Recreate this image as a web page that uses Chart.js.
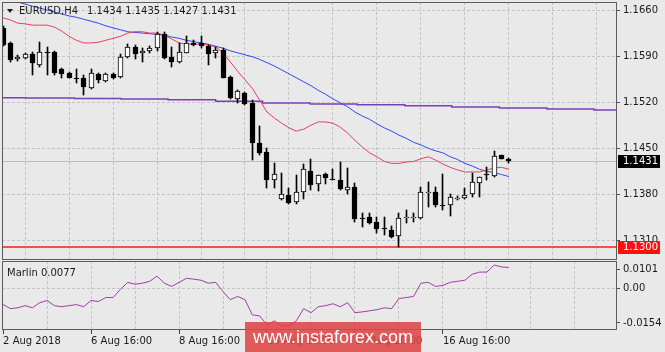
<!DOCTYPE html>
<html>
<head>
<meta charset="utf-8">
<title>EURUSD H4</title>
<script src="https://cdn.jsdelivr.net/npm/chart.js@4.4.1/dist/chart.umd.min.js"></script>
<style>
    body { margin: 0; background: #e9e9e9; }
    #wrap { position: relative; width: 665px; height: 352px; overflow: hidden; background: #e9e9e9; }
    #price_chart { position: absolute; left: 0; top: 0; }
    #osc_chart { position: absolute; left: 0; top: 260px; }
    #watermark {
        position: absolute; left: 245px; top: 322px; width: 176px; height: 30px;
        background: rgba(222, 70, 70, 0.88); color: #fff;
        font: 18px "Liberation Sans", Arial, sans-serif; line-height: 30px; text-align: center;
    }
</style>
</head>
<body>
<div id="wrap">
    <canvas id="price_chart" width="665" height="261"></canvas>
    <canvas id="osc_chart" width="665" height="92"></canvas>
    <div id="watermark">www.instaforex.com</div>
</div>
<script>
// ---- data (one value per H4 bar) ----
const symbol_name  = "EURUSD,H4";
const open_prices  = [1.1632,1.1610,1.1586,1.1587,1.1593,1.1576,1.1596,1.1596,1.1570,1.1564,
                      1.1557,1.1557,1.1541,1.1563,1.1552,1.1563,1.1558,1.1589,1.1604,1.1595,
                      1.1598,1.1602,1.1624,1.1589,1.1581,1.1595,1.1610,1.1610,1.1605,1.1595,
                      1.1599,1.1558,1.1525,1.1534,1.1519,1.1458,1.1444,1.1402,1.1373,1.1379,
                      1.1368,1.1383,1.1415,1.1396,1.1411,1.1404,1.1402,1.1386,1.1391,1.1344,
                      1.1345,1.1338,1.1329,1.1326,1.1316,1.1345,1.1345,1.1344,1.1383,1.1383,
                      1.1364,1.1364,1.1374,1.1374,1.1380,1.1397,1.1411,1.1408,1.1440,1.1434];
const high_prices  = [1.1636,1.1611,1.1592,1.1595,1.1596,1.1611,1.1604,1.1597,1.1572,1.1566,
                      1.1570,1.1561,1.1570,1.1564,1.1564,1.1564,1.1593,1.1608,1.1607,1.1602,
                      1.1605,1.1627,1.1627,1.1604,1.1610,1.1620,1.1614,1.1620,1.1607,1.1604,
                      1.1602,1.1560,1.1538,1.1535,1.1523,1.1484,1.1450,1.1427,1.1412,1.1389,
                      1.1409,1.1426,1.1434,1.1410,1.1412,1.1418,1.1429,1.1420,1.1397,1.1351,
                      1.1351,1.1345,1.1345,1.1332,1.1351,1.1356,1.1351,1.1391,1.1399,1.1391,
                      1.1411,1.1380,1.1377,1.1389,1.1412,1.1407,1.1421,1.1446,1.1440,1.1435];
const low_prices   = [1.1605,1.1581,1.1582,1.1586,1.1561,1.1573,1.1561,1.1561,1.1557,1.1556,
                      1.1549,1.1531,1.1540,1.1549,1.1551,1.1555,1.1557,1.1587,1.1586,1.1581,
                      1.1595,1.1598,1.1586,1.1573,1.1580,1.1594,1.1605,1.1602,1.1576,1.1587,
                      1.1556,1.1525,1.1519,1.1516,1.1432,1.1440,1.1389,1.1389,1.1371,1.1366,
                      1.1366,1.1373,1.1386,1.1385,1.1396,1.1402,1.1386,1.1380,1.1338,1.1330,
                      1.1335,1.1321,1.1318,1.1313,1.1300,1.1336,1.1338,1.1343,1.1361,1.1361,
                      1.1356,1.1347,1.1372,1.1373,1.1376,1.1376,1.1402,1.1407,1.1434,1.1427];
const close_prices = [1.1607,1.1584,1.1589,1.1593,1.1579,1.1596,1.1595,1.1564,1.1563,1.1557,
                      1.1556,1.1543,1.1564,1.1554,1.1563,1.1557,1.1589,1.1604,1.1593,1.1598,
                      1.1602,1.1624,1.1587,1.1581,1.1596,1.1610,1.1607,1.1605,1.1593,1.1599,
                      1.1557,1.1526,1.1537,1.1517,1.1458,1.1443,1.1402,1.1411,1.1380,1.1367,
                      1.1383,1.1418,1.1394,1.1409,1.1405,1.1403,1.1388,1.1391,1.1342,1.1343,
                      1.1336,1.1327,1.1328,1.1315,1.1344,1.1346,1.1345,1.1383,1.1383,1.1364,
                      1.1363,1.1376,1.1375,1.1379,1.1399,1.1406,1.1409,1.1438,1.1434,1.1431];

// moving averages (red = fast, blue = slow)
const ma_fast = [1.1648,1.1645,1.1640,1.1639,1.1637,1.1637,1.1637,1.1634,1.1628,1.1620,
                 1.1614,1.1610,1.1610,1.1611,1.1614,1.1617,1.1620,1.1625,1.1627,1.1627,
                 1.1625,1.1625,1.1622,1.1616,1.1610,1.1608,1.1608,1.1608,1.1607,1.1604,
                 1.1595,1.1581,1.1567,1.1554,1.1541,1.1523,1.1505,1.1496,1.1488,1.1481,
                 1.1476,1.1479,1.1485,1.1490,1.1490,1.1488,1.1482,1.1473,1.1462,1.1452,
                 1.1443,1.1437,1.1430,1.1427,1.1427,1.1429,1.1430,1.1434,1.1437,1.1432,
                 1.1426,1.1421,1.1417,1.1414,1.1414,1.1414,1.1417,1.1420,1.1421,1.1418];
const ma_slow = [1.1678,1.1675,1.1672,1.1669,1.1666,1.1663,1.1660,1.1657,1.1654,1.1651,
                 1.1649,1.1646,1.1643,1.1640,1.1636,1.1633,1.1630,1.1627,1.1626,1.1625,
                 1.1624,1.1623,1.1622,1.1619,1.1617,1.1614,1.1612,1.1610,1.1608,1.1605,
                 1.1602,1.1598,1.1595,1.1592,1.1589,1.1585,1.1580,1.1575,1.1569,1.1563,
                 1.1557,1.1551,1.1545,1.1538,1.1532,1.1525,1.1519,1.1513,1.1505,1.1499,
                 1.1494,1.1487,1.1481,1.1476,1.1470,1.1465,1.1459,1.1455,1.1450,1.1446,
                 1.1443,1.1437,1.1433,1.1427,1.1423,1.1418,1.1415,1.1413,1.1410,1.1407];

// daily MA shown as steps (bar position where each step starts)
const daily_ma_x = [-0.15, 3.1, 9.7, 16.1, 22.5, 29.0, 35.4, 41.9, 48.3, 54.8, 61.2, 67.7, 74.2, 80.6];
const daily_ma   = [1.15268,1.15264,1.15256,1.15249,1.15235,1.15214,1.15189,
                    1.15174,1.15159,1.15144,1.15126,1.15110,1.15095,1.15080];

const marlin = [-0.0060,-0.0075,-0.0072,-0.0064,-0.0072,-0.0053,-0.0045,-0.0064,-0.0068,-0.0064,
                -0.0060,-0.0068,-0.0045,-0.0049,-0.0034,-0.0034,-0.0004, 0.0022, 0.0015, 0.0019,
                 0.0026, 0.0045, 0.0019, 0.0007, 0.0022, 0.0037, 0.0034, 0.0030, 0.0019, 0.0022,
                -0.0012,-0.0042,-0.0030,-0.0042,-0.0098,-0.0102,-0.0135,-0.0120,-0.0139,-0.0139,
                -0.0120,-0.0075,-0.0090,-0.0068,-0.0064,-0.0057,-0.0068,-0.0053,-0.0090,-0.0087,
                -0.0083,-0.0079,-0.0072,-0.0075,-0.0038,-0.0034,-0.0030, 0.0019, 0.0022, 0.0007,
                 0.0011, 0.0022, 0.0026, 0.0030, 0.0052, 0.0060, 0.0060, 0.0086, 0.0079, 0.0077];

const support_level   = 1.1300;
const price_ticks     = [1.1310, 1.1380, 1.1450, 1.1520, 1.1590, 1.1660];
const osc_tick_values = [-0.0128, 0, 0.0071];
const osc_tick_labels = ["-0.0154", "0.00", "0.0101"];
const time_label_bars = [0, 12, 24, 36, 48, 60];
const time_labels     = ["2 Aug 2018", "6 Aug 16:00", "8 Aug 16:00", "10 Aug 16:00", "14 Aug 16:00", "16 Aug 16:00"];

// ---- look ----
const X_MIN = -0.15, X_MAX = 83.75;
const GRID   = "#c4c4c4";
const FRAME  = "#5c5c5c";
const TEXT   = "#1a1a1a";
const RED    = "#e6405e";
const BLUE   = "#3346f5";
const PURPLE = "#7b3fb5";
const MARLIN = "#a23aa8";

Chart.defaults.font.family = '"DejaVu Sans", sans-serif';
Chart.defaults.font.size   = 10;
Chart.defaults.color       = TEXT;

let grid_bars = [];
for (let i = 0; i <= 78; i += 6){
    grid_bars.push(i);
}
const last = close_prices.length - 1;

const frame_plugin = {
    id: "frame",
    afterDraw(chart){
        const a = chart.chartArea;
        const ctx = chart.ctx;
        ctx.save();
        ctx.strokeStyle = FRAME;
        ctx.lineWidth = 1;
        ctx.strokeRect(a.left + 0.5, a.top + 0.5, a.right - a.left - 1, a.bottom - a.top - 1);
        ctx.restore();
    }
};

// keep candles on whole pixels so the wicks stay sharp
const snap_plugin = {
    id: "snap",
    afterDatasetsUpdate(chart){
        chart.data.datasets.forEach((ds, di) => {
            const meta = chart.getDatasetMeta(di);
            if (meta.type !== "bar") return;
            for (let el of meta.data){
                el.x = Math.floor(el.x) + 0.5;
                let a = Math.round(el.y), b = Math.round(el.base);
                if (Math.abs(a - b) < 1) b = a + 1;
                el.y = a;
                el.base = b;
            }
        });
    }
};

const level_plugin = {
    id: "levels",
    beforeDatasetsDraw(chart){
        const a = chart.chartArea;
        const ctx = chart.ctx;
        const y_scale = chart.scales.y;
        ctx.save();
        let y = Math.round(y_scale.getPixelForValue(close_prices[last])) + 0.5;
        ctx.strokeStyle = "#bdbdbd";
        ctx.lineWidth = 1;
        ctx.beginPath(); ctx.moveTo(a.left, y); ctx.lineTo(a.right, y); ctx.stroke();
        y = y_scale.getPixelForValue(support_level);
        ctx.strokeStyle = "#ff1a1a";
        ctx.lineWidth = 1.6;
        ctx.beginPath(); ctx.moveTo(a.left, y); ctx.lineTo(a.right, y); ctx.stroke();
        ctx.restore();
    },
    afterDraw(chart){
        const a = chart.chartArea;
        const ctx = chart.ctx;
        const y_scale = chart.scales.y;
        ctx.save();
        ctx.font = '10px "DejaVu Sans", sans-serif';
        ctx.textBaseline = "middle";
        let boxes = [
            [close_prices[last], "#000000"],
            [support_level, "#ff1010"]
        ];
        for (let b of boxes){
            let y = Math.round(y_scale.getPixelForValue(b[0]));
            ctx.fillStyle = b[1];
            ctx.fillRect(a.right + 1, y - 6, 42, 13);
            ctx.fillStyle = "#ffffff";
            ctx.fillText(b[0].toFixed(4), a.right + 6, y + 0.5);
        }
        // title
        ctx.fillStyle = TEXT;
        ctx.beginPath();
        ctx.moveTo(7, 9); ctx.lineTo(13, 9); ctx.lineTo(10, 13); ctx.closePath();
        ctx.fill();
        ctx.fillText(symbol_name, 19, 11);
        let w = ctx.measureText(symbol_name).width;
        let ohlc = [open_prices[last], high_prices[last], low_prices[last], close_prices[last]]
            .map(v => v.toFixed(4)).join(" ");
        ctx.fillText(ohlc, 19 + w + 9, 11);
        ctx.restore();
    }
};

const osc_label_plugin = {
    id: "osc_label",
    afterDraw(chart){
        const ctx = chart.ctx;
        ctx.save();
        ctx.font = '10px "DejaVu Sans", sans-serif';
        ctx.textBaseline = "middle";
        ctx.fillStyle = TEXT;
        ctx.fillText("Marlin " + marlin[marlin.length - 1].toFixed(4), 7, 13);
        ctx.restore();
    }
};

function draw_price_chart(){
    let wicks  = [];
    let bodies = [];
    let body_colors = [];
    for (let i = 0; i < close_prices.length; i++){
        wicks.push({x: i, y: [low_prices[i], high_prices[i]]});
        bodies.push({x: i, y: [open_prices[i], close_prices[i]]});
        body_colors.push(close_prices[i] >= open_prices[i] ? "#ffffff" : "#000000");
    }
    let daily_points = daily_ma_x.map((x, i) => ({x: x, y: daily_ma[i]}));
    daily_points.push({x: X_MAX, y: daily_ma[daily_ma.length - 1]});

    const ctx = document.getElementById("price_chart").getContext("2d");
    new Chart(ctx, {
        type: "bar",
        data: {
            datasets: [
                {
                    type: "line",
                    data: daily_points,
                    borderColor: PURPLE,
                    borderWidth: 1.5,
                    pointRadius: 0,
                    stepped: true,
                    order: 5
                },
                {
                    type: "line",
                    data: ma_slow.map((v, i) => ({x: i, y: v})),
                    borderColor: BLUE,
                    borderWidth: 1,
                    pointRadius: 0,
                    order: 4
                },
                {
                    type: "line",
                    data: ma_fast.map((v, i) => ({x: i, y: v})),
                    borderColor: RED,
                    borderWidth: 1,
                    pointRadius: 0,
                    order: 3
                },
                {
                    data: wicks,
                    backgroundColor: "#000000",
                    borderWidth: 0,
                    barThickness: 1,
                    maxBarThickness: 1,
                    grouped: false,
                    order: 2
                },
                {
                    data: bodies,
                    backgroundColor: body_colors,
                    borderColor: "#000000",
                    borderWidth: 1,
                    borderSkipped: false,
                    barThickness: 5,
                    maxBarThickness: 5,
                    grouped: false,
                    order: 1
                }
            ]
        },
        options: {
            responsive: false,
            animation: false,
            devicePixelRatio: 1,
            layout: { padding: { left: 2, top: 2, right: 0, bottom: 1 } },
            scales: {
                x: {
                    type: "linear",
                    min: X_MIN,
                    max: X_MAX,
                    offset: false,
                    afterBuildTicks: s => { s.ticks = grid_bars.map(v => ({value: v})); },
                    ticks: { display: false },
                    grid: {
                        color: c => (c.tick && c.tick.value === 0) ? "transparent" : GRID,
                        drawTicks: false
                    },
                    border: { display: false, dash: [3, 2] },
                    afterFit: s => { s.height = 0; s.paddingLeft = 0; s.paddingRight = 0; }
                },
                y: {
                    type: "linear",
                    position: "right",
                    min: 1.12802,
                    max: 1.16722,
                    afterBuildTicks: s => { s.ticks = price_ticks.map(v => ({value: v})); },
                    ticks: { callback: v => v.toFixed(4), padding: 3 },
                    grid: { color: GRID, tickColor: "#505050", tickLength: 3, tickBorderDash: [] },
                    border: { display: false, dash: [3, 2] },
                    afterFit: s => { s.width = 48; s.paddingTop = 0; s.paddingBottom = 0; }
                }
            },
            plugins: {
                legend: { display: false },
                tooltip: { enabled: false }
            }
        },
        plugins: [snap_plugin, level_plugin, frame_plugin]
    });
}

function draw_osc_chart(){
    const ctx = document.getElementById("osc_chart").getContext("2d");
    new Chart(ctx, {
        type: "line",
        data: {
            datasets: [{
                data: marlin.map((v, i) => ({x: i, y: v})),
                borderColor: MARLIN,
                borderWidth: 1,
                pointRadius: 0
            }]
        },
        options: {
            responsive: false,
            animation: false,
            devicePixelRatio: 1,
            layout: { padding: { left: 2, top: 1, right: 0, bottom: 0 } },
            scales: {
                x: {
                    type: "linear",
                    min: X_MIN,
                    max: X_MAX,
                    offset: false,
                    afterBuildTicks: s => { s.ticks = grid_bars.map(v => ({value: v})); },
                    ticks: {
                        autoSkip: false,
                        maxRotation: 0,
                        align: "start",
                        padding: 1,
                        callback: v => {
                            let k = time_label_bars.indexOf(v);
                            return k < 0 ? "" : time_labels[k];
                        }
                    },
                    grid: {
                        color: c => (c.tick && c.tick.value === 0) ? "transparent" : GRID,
                        tickColor: c => (c.tick && time_label_bars.includes(c.tick.value)) ? "#404040" : "transparent",
                        tickLength: 4,
                        tickBorderDash: []
                    },
                    border: { display: false, dash: [3, 2] },
                    afterFit: s => { s.height = 22; s.paddingLeft = 0; s.paddingRight = 0; }
                },
                y: {
                    type: "linear",
                    position: "right",
                    min: -0.0154,
                    max: 0.0101,
                    afterBuildTicks: s => { s.ticks = osc_tick_values.map(v => ({value: v})); },
                    ticks: { callback: (v, i) => osc_tick_labels[i], padding: 3 },
                    grid: {
                        color: c => (c.tick && c.tick.value === 0) ? GRID : "transparent",
                        tickColor: "#505050",
                        tickLength: 3,
                        tickBorderDash: []
                    },
                    border: { display: false, dash: [3, 2] },
                    afterFit: s => { s.width = 48; s.paddingTop = 0; s.paddingBottom = 0; }
                }
            },
            plugins: {
                legend: { display: false },
                tooltip: { enabled: false }
            }
        },
        plugins: [frame_plugin, osc_label_plugin]
    });
}

draw_price_chart();
draw_osc_chart();
</script>
</body>
</html>
